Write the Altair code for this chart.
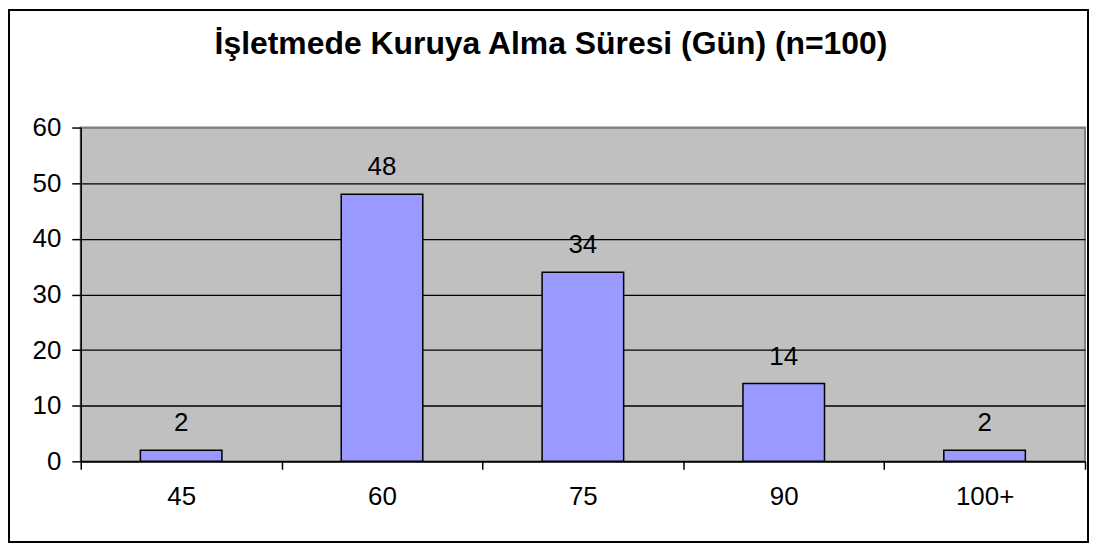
import altair as alt
import pandas as pd

categories = ["45", "60", "75", "90", "100+"]
counts = [2, 48, 34, 14, 2]
title_text = "İşletmede Kuruya Alma Süresi (Gün) (n=100)"
y_ticks = [0, 10, 20, 30, 40, 50, 60]

FONT = "Liberation Sans, Arial, sans-serif"

df = pd.DataFrame({"kategori": categories, "sayi": counts})

x_enc = alt.X(
    "kategori:N",
    sort=categories,
    title=None,
    scale=alt.Scale(paddingInner=0, paddingOuter=0),
    axis=alt.Axis(
        labelAngle=0,
        labelFontSize=26,
        labelFont=FONT,
        labelColor="black",
        labelPadding=14,
        tickBand="extent",
        tickSize=8,
        tickColor="black",
        tickWidth=1.5,
        domainColor="black",
        domainWidth=1.5,
        grid=False,
    ),
)
y_enc = alt.Y(
    "sayi:Q",
    title=None,
    scale=alt.Scale(domain=[0, 60], nice=False),
    axis=alt.Axis(
        values=y_ticks,
        labelFontSize=26,
        labelFont=FONT,
        labelColor="black",
        labelPadding=11,
        tickSize=9,
        tickColor="black",
        tickWidth=1.5,
        domainColor="black",
        domainWidth=1.5,
        grid=True,
        gridColor=alt.condition("datum.value >= 60", alt.value("#808080"), alt.value("black")),
        gridWidth=1.3,
    ),
)

base = alt.Chart(df)

bars = base.mark_bar(
    color="#9999FF",
    stroke="black",
    strokeWidth=1.5,
    width=alt.RelativeBandSize(0.406),
).encode(x=x_enc, y=y_enc)

labels = base.mark_text(
    baseline="bottom",
    dy=-14,
    fontSize=26,
    font=FONT,
    color="black",
).encode(x=alt.X("kategori:N", sort=categories), y="sayi:Q", text="sayi:Q")

title = alt.Chart(pd.DataFrame({"t": [title_text]})).mark_text(
    fontSize=32,
    fontWeight="bold",
    font=FONT,
    color="black",
    baseline="alphabetic",
    align="center",
).encode(text="t:N", x=alt.value(472), y=alt.value(-74))

frame = alt.Chart(pd.DataFrame({"f": [0]})).mark_rect(
    fillOpacity=0,
    stroke="black",
    strokeWidth=2,
).encode(x=alt.value(-72), x2=alt.value(1011), y=alt.value(-118), y2=alt.value(416))

chart = (
    alt.layer(frame, bars, labels, title)
    .properties(
        width=1008,
        height=335,
        padding={"left": 73, "top": 119, "right": 4, "bottom": 83},
        autosize=alt.AutoSizeParams(type="none"),
        background="white",
    )
    .configure_view(fill="#C0C0C0", stroke="#808080", strokeWidth=2)
)

chart.save("out.html", embed_options={"renderer": "svg", "actions": False})
